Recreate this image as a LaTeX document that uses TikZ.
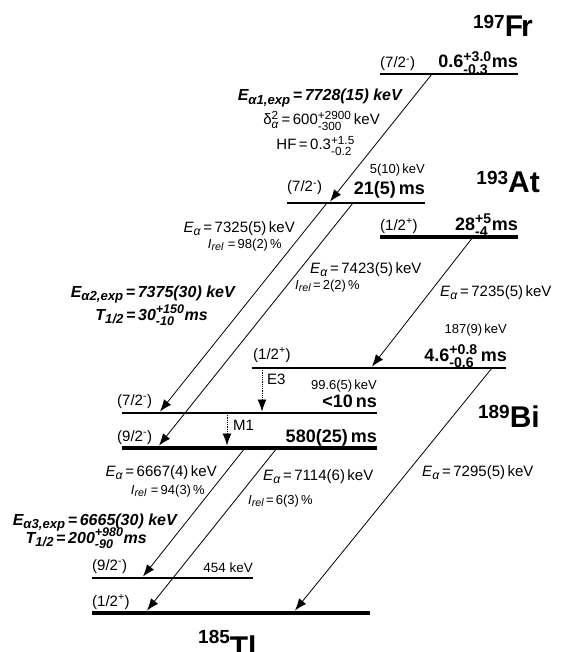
\documentclass[tikz,border=0pt]{standalone}
\usepackage{fontspec}
\setmainfont{Liberation Sans}
\usepackage{amsmath}
\usetikzlibrary{arrows.meta}

\newcommand{\lowsub}[1]{\raisebox{-0.2em}{\scalebox{0.82}{#1}}}
\newcommand{\Ea}{\textit{E}\lowsub{\textit{α}}}
\newcommand{\Irel}{\textit{I}\lowsub{\textit{rel}}}
\newcommand{\err}[2]{$^{\text{\scalebox{1.12}{#1}}}_{\text{\scalebox{1.12}{#2}}}$}
\newcommand{\nucl}[3][8.5pt]{\raisebox{#1}{\fontsize{19}{19}\selectfont #2}\fontsize{30}{30}\selectfont #3}

\begin{document}
\begin{tikzpicture}[x=1pt,y=-1pt,
  lvthin/.style={line width=2.3pt},
  lvmid/.style={line width=2.7pt},
  lvthick/.style={line width=4.5pt},
  decay/.style={line width=0.8pt,-{Latex[length=12pt,width=9pt]}},
  gtrans/.style={decay,densely dotted},
  lab/.style={inner sep=0pt,font=\fontsize{15}{15}\selectfont},
  sml/.style={inner sep=0pt,font=\fontsize{13}{13}\selectfont},
  hl/.style={inner sep=0pt,font=\fontsize{18}{18}\selectfont\bfseries},
  expt/.style={inner sep=0pt,font=\fontsize{16}{16}\selectfont\bfseries\itshape},
  nuc/.style={inner sep=0pt,font=\bfseries}]
  \useasboundingbox (0,0) rectangle (576,652);

  % 197Fr
  \node[nuc,anchor=base east] (fr) at (533,37) {\nucl{197}{F\kern-2pt r}};
  \draw[lvmid] (380,74) -- (518,74);
  \node[lab,anchor=base west] (frspin) at (380,68) {(7/2\textsuperscript{-})};
  \node[hl,anchor=base east] (frhl) at (518,68) {0.6\err{+3.0}{-0.3}ms};

  % 193At
  \node[nuc,anchor=base east] (at) at (540,193) {\nucl{193}{At}};
  \draw[lvmid] (287,203) -- (425,203);
  \node[lab,anchor=base west] (atspinA) at (287,192) {(7/2\textsuperscript{-})};
  \node[hl,anchor=base east] (athlA) at (425,194) {21(5)\,ms};
  \node[sml,anchor=base east] (atE) at (425,174) {5(10)\,keV};
  \draw[lvthick] (380,237) -- (518,237);
  \node[lab,anchor=base west] (atspinB) at (380,230) {(1/2\textsuperscript{+})};
  \node[hl,anchor=base east] (athlB) at (518,230) {28\err{+5}{-4}ms};

  % 189Bi
  \node[nuc,anchor=base east] (bi) at (540,427) {\nucl{189}{Bi}};
  \draw[lvthin] (252,368) -- (506,368);
  \node[lab,anchor=base west] (bispinA) at (253,359) {(1/2\textsuperscript{+})};
  \node[sml,anchor=base east] (biEA) at (507,333) {187(9)\,keV};
  \node[hl,anchor=base east] (bihlA) at (507,361) {4.6\err{+0.8}{-0.6}\,ms};
  \draw[lvmid] (122,413) -- (377,413);
  \node[lab,anchor=base west] (bispinB) at (117,405) {(7/2\textsuperscript{-})};
  \node[sml,anchor=base east] (biEB) at (377,389) {99.6(5)\,keV};
  \node[hl,anchor=base east] (bihlB) at (377,407) {<10\,ns};
  \draw[lvthick] (122,448) -- (377,448);
  \node[lab,anchor=base west] (bispinC) at (117,441) {(9/2\textsuperscript{-})};
  \node[hl,anchor=base east] (bihlC) at (377,442) {580(25)\,ms};

  % 185Tl
  \node[nuc,anchor=base west] (tl) at (198,657) {\nucl[14pt]{185}{Tl}};
  \draw[lvthin] (92,578) -- (253,578);
  \node[lab,anchor=base west] (tlspinA) at (92,570) {(9/2\textsuperscript{-})};
  \node[lab,anchor=base east,font=\fontsize{13.5}{13.5}\selectfont] (tlE) at (253,572) {454 keV};
  \draw[lvthick] (92,613) -- (230.6,613);
  \draw[lvthick] (231.4,613) -- (370,613);
  \node[lab,anchor=base west] (tlspinB) at (92,606) {(1/2\textsuperscript{+})};

  % decay arrows
  \coordinate (frA) at (432,74);   \coordinate (atA) at (330,201.5);
  \coordinate (atB) at (327,203);  \coordinate (biB) at (160,411.5);
  \coordinate (atC) at (353,203);  \coordinate (biC) at (159,445.5);
  \coordinate (atD) at (473,237);  \coordinate (biA) at (372,366.5);
  \coordinate (biD) at (492,368);  \coordinate (tlD) at (295,610.5);
  \coordinate (biE) at (245,448);  \coordinate (tlE9) at (143,576.5);
  \coordinate (biF) at (277,448);  \coordinate (tlF) at (147,610.5);
  \draw[decay] (frA) -- (atA);
  \draw[decay] (atB) -- (biB);
  \draw[decay] (atC) -- (biC);
  \draw[decay] (atD) -- (biA);
  \draw[decay] (biD) -- (tlD);
  \draw[decay] (biE) -- (tlE9);
  \draw[decay] (biF) -- (tlF);

  % gamma transitions
  \coordinate (eT) at (262,368);   \coordinate (eB) at (262,411.5);
  \coordinate (mT) at (227,413);   \coordinate (mB) at (227,445.5);
  \draw[gtrans] (eT) -- (eB);
  \draw[gtrans] (mT) -- (mB);
  \node[lab,anchor=base west] (e3) at (267,384) {E3};
  \node[lab,anchor=base west] (m1) at (233,430) {M1};

  % alpha labels
  \node[expt,anchor=base east] (exA) at (402,101) {\textit{E}\lowsub{α1,exp}\,=\,7728(15) keV};
  \node[lab,anchor=base east] (dA) at (380,125) {δ\err{2}{\textit{α}}\,=\,600\err{+2900}{-300}\,keV};
  \node[lab,anchor=base east] (hf) at (355,150) {HF\,=\,0.3\err{+1.5}{-0.2}};
  \node[lab,anchor=base east] (eB1) at (295,232) {\Ea\,=\,7325(5)\,keV};
  \node[sml,anchor=base east] (iB1) at (282,248) {\Irel\,\,=\,98(2)\,\%};
  \node[lab,anchor=base west] (eC1) at (310,273) {\Ea\,=\,7423(5)\,keV};
  \node[sml,anchor=base west] (iC1) at (295,289) {\Irel\,=\,2(2)\,\%};
  \node[lab,anchor=base west] (eD1) at (440,296) {\Ea\,=\,7235(5)\,keV};
  \node[expt,anchor=base east] (exB) at (235,297) {\textit{E}\lowsub{α2,exp}\,=\,7375(30) keV};
  \node[expt,anchor=base east] (tB) at (208,320) {T\lowsub{1/2}\,=\,30\err{+150}{-10}ms};
  \node[lab,anchor=base west] (eE1) at (422,476) {\Ea\,=\,7295(5)\,keV};
  \node[lab,anchor=base east] (eF1) at (217,476) {\Ea\,=\,6667(4)\,keV};
  \node[sml,anchor=base east] (iF1) at (205,494) {\Irel\,\,=\,94(3)\,\%};
  \node[lab,anchor=base west] (eG1) at (263,480) {\Ea\,=\,7114(6)\,keV};
  \node[sml,anchor=base west] (iG1) at (248,504) {\Irel\,=\,6(3)\,\%};
  \node[expt,anchor=base east] (exC) at (177,525) {\textit{E}\lowsub{α3,exp}\,=\,6665(30) keV};
  \node[expt,anchor=base east] (tC) at (147,543) {T\lowsub{1/2}\,=\,200\err{+980}{-90}ms};
\end{tikzpicture}
\end{document}
